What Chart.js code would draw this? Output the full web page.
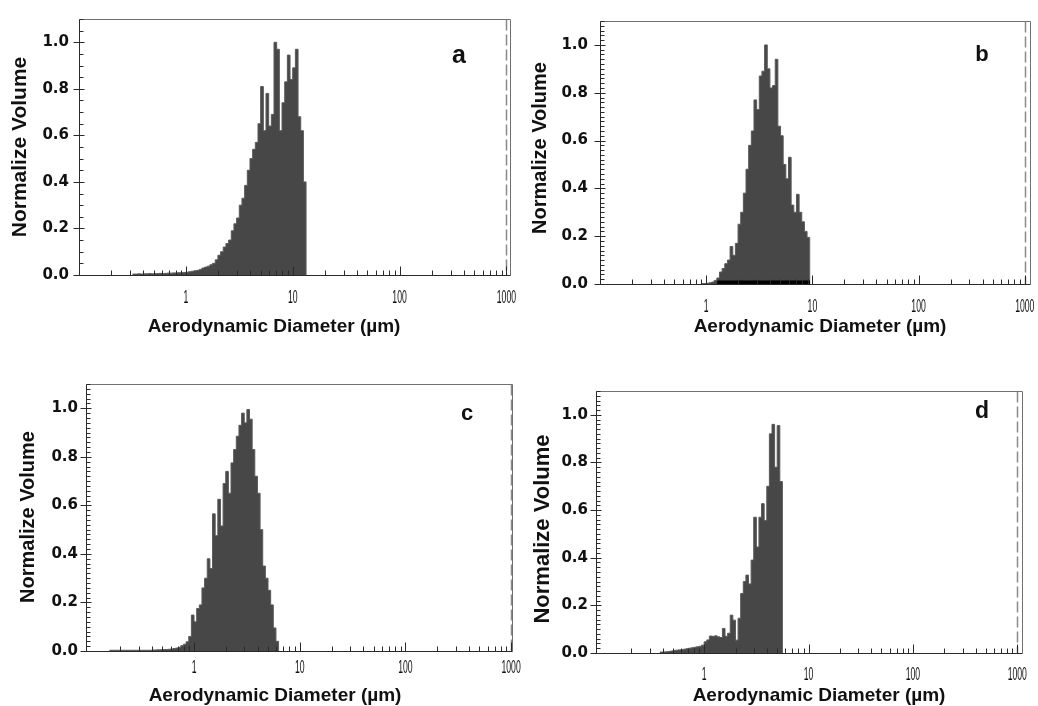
<!DOCTYPE html>
<html>
<head>
<meta charset="utf-8">
<script src="https://cdn.jsdelivr.net/npm/chart.js@4.4.1/dist/chart.umd.min.js"></script>
<style>
  html, body { margin: 0; padding: 0; background: #fff; }
  body { position: relative; width: 1038px; height: 706px; overflow: hidden; }
  canvas { position: absolute; }
</style>
</head>
<body>
<canvas id="chartA" width="530" height="345" style="left:0;top:0"></canvas>
<canvas id="chartB" width="519" height="345" style="left:519px;top:0"></canvas>
<canvas id="chartC" width="530" height="351" style="left:0;top:355px"></canvas>
<canvas id="chartD" width="519" height="351" style="left:519px;top:355px"></canvas>
<script>
// size channels: 40 per decade, channel 0 starts at 0.1 um
const channelStart = 0.1;
const channelsPerDecade = 40;

const xTickValues = [1, 10, 100, 1000];
const yTickValues = [0, 0.2, 0.4, 0.6, 0.8, 1.0];
const dashedLineAt = 1000;

const xTitle = 'Aerodynamic Diameter (µm)';
const yTitle = 'Normalize Volume';

// normalized volume per channel
const firstChannelA = 20;
const volumeA = [
    0.004, 0.004, 0.005, 0.004, 0.005, 0.005, 0.006, 0.005, 0.006, 0.006,
    0.007, 0.006, 0.007, 0.008, 0.008, 0.009, 0.009, 0.010, 0.010, 0.011,
    0.012, 0.014, 0.016, 0.018, 0.020, 0.024, 0.030, 0.034, 0.038, 0.044,
    0.050, 0.065, 0.085, 0.100, 0.120, 0.135, 0.150, 0.190, 0.220, 0.245,
    0.300, 0.330, 0.385, 0.450, 0.500, 0.540, 0.570, 0.650, 0.810, 0.620,
    0.780, 0.640, 0.690, 1.000, 0.970, 0.620, 0.740, 0.830, 0.945, 0.840,
    0.890, 0.970, 0.680, 0.620, 0.400
];

const firstChannelB = 38;
const volumeB = [
    0.002, 0.002,
    0.003, 0.005, 0.008, 0.015, 0.025, 0.050, 0.065, 0.085, 0.100, 0.157,
    0.120, 0.170, 0.250, 0.300, 0.380, 0.480, 0.580, 0.640, 0.770, 0.730,
    0.870, 0.890, 1.000, 0.900, 0.820, 0.830, 0.940, 0.660, 0.620, 0.500,
    0.440, 0.530, 0.330, 0.300, 0.375, 0.300, 0.260, 0.220, 0.195
];
const blackBandB = [1.27, 9.5];

const firstChannelC = 8;
const volumeC = [
    0.003, 0.003, 0.003, 0.003, 0.003, 0.003, 0.003, 0.003, 0.003, 0.003,
    0.003, 0.003, 0.003, 0.003, 0.003, 0.003, 0.004, 0.004, 0.005, 0.005,
    0.006, 0.006, 0.007, 0.008, 0.010, 0.012,
    0.015, 0.022, 0.028, 0.038, 0.060, 0.148, 0.120, 0.175, 0.190, 0.260,
    0.300, 0.380, 0.340, 0.565, 0.475, 0.625, 0.515, 0.690, 0.740, 0.650,
    0.775, 0.830, 0.885, 0.930, 0.980, 0.940, 0.995, 0.955, 0.830, 0.720,
    0.650, 0.500, 0.350, 0.300, 0.250, 0.190, 0.095, 0.040
];

const firstChannelD = 23;
const volumeD = [
    0.004, 0.004, 0.005, 0.006, 0.008, 0.010, 0.012,
    0.013, 0.014, 0.016, 0.018, 0.020, 0.022, 0.024, 0.026, 0.028, 0.033,
    0.047, 0.055, 0.071, 0.070, 0.072, 0.068, 0.065, 0.103, 0.070, 0.083,
    0.159, 0.138, 0.054, 0.146, 0.250, 0.300, 0.327, 0.290, 0.390, 0.570,
    0.445, 0.570, 0.627, 0.556, 0.700, 0.920, 0.960, 0.780, 0.955, 0.720
];

function channelEdge(i) {
    return channelStart * Math.pow(10, i / channelsPerDecade);
}

function toPoints(first, values) {
    const pts = values.map((v, k) => ({ x: channelEdge(first + k), y: v }));
    pts.push({ x: channelEdge(first + values.length), y: 0 });
    return pts;
}

const panels = [
    {
        id: 'chartA', letter: 'a', first: firstChannelA, values: volumeA,
        xMin: 0.1, xMax: 1080, yAxisWidth: 79, xAxisHeight: 70, padTop: 14, padRight: 20,
        yTickPad: 10, yMinorStep: 0.05, xLabelY: 298,
        xTitleAt: [274, 327], yTitleAt: [20, 147], yTitleSize: 21,
        letterAt: [459, 56], letterSize: 25
    },
    {
        id: 'chartB', letter: 'b', first: firstChannelB, values: volumeB, band: blackBandB,
        xMin: 0.1, xMax: 1120, yAxisWidth: 81, xAxisHeight: 61, padTop: 17, padRight: 8,
        yTickPad: 12, yMinorStep: 0.02, xLabelY: 307,
        xTitleAt: [301, 327], yTitleAt: [21, 148], yTitleSize: 20,
        letterAt: [463, 55], letterSize: 22
    },
    {
        id: 'chartC', letter: 'c', first: firstChannelC, values: volumeC,
        xMin: 0.095, xMax: 1020, yAxisWidth: 86, xAxisHeight: 55, padTop: 29, padRight: 18,
        yTickPad: 8, yMinorStep: 0.02, xLabelY: 313,
        xTitleAt: [275, 341], yTitleAt: [28, 162], yTitleSize: 20,
        letterAt: [467, 59], letterSize: 22
    },
    {
        id: 'chartD', letter: 'd', first: firstChannelD, values: volumeD,
        xMin: 0.092, xMax: 1110, yAxisWidth: 77, xAxisHeight: 53, padTop: 36, padRight: 16,
        yTickPad: 8, yMinorStep: 0.02, xLabelY: 320,
        xTitleAt: [300, 341], yTitleAt: [24, 174], yTitleSize: 22,
        letterAt: [463, 57], letterSize: 23
    }
];

function crisp(v) {
    return Math.round(v) + 0.5;
}

// frame, inward ticks, dashed 1000 um line, axis titles and panel letter
function makeDecor(p) {
    return {
        id: 'panelDecor',
        afterDraw(chart) {
            const { ctx, chartArea: area, scales: { x, y } } = chart;
            const L = crisp(area.left), R = crisp(area.right);
            const T = crisp(area.top), B = crisp(area.bottom);
            ctx.save();

            // dashed line
            const xd = crisp(x.getPixelForValue(dashedLineAt));
            ctx.strokeStyle = '#8a8a8a';
            ctx.lineWidth = 1.5;
            ctx.setLineDash([11, 4]);
            ctx.beginPath();
            ctx.moveTo(xd, T);
            ctx.lineTo(xd, B);
            ctx.stroke();
            ctx.setLineDash([]);

            // top and right frame
            ctx.strokeStyle = '#707070';
            ctx.lineWidth = 1;
            ctx.beginPath();
            ctx.moveTo(L, T);
            ctx.lineTo(R, T);
            ctx.lineTo(R, B);
            ctx.stroke();

            // axes
            ctx.strokeStyle = '#2a2a2a';
            ctx.beginPath();
            ctx.moveTo(L, T);
            ctx.lineTo(L, B);
            ctx.lineTo(R, B);
            ctx.stroke();

            // y ticks
            ctx.beginPath();
            const nMinor = Math.round(y.max / p.yMinorStep);
            for (let k = 0; k <= nMinor; k++) {
                const v = k * p.yMinorStep;
                const py = crisp(y.getPixelForValue(v));
                const major = yTickValues.some(t => Math.abs(t - v) < 1e-6);
                if (major) {
                    ctx.moveTo(L - 6, py);
                    ctx.lineTo(L + 5, py);
                } else {
                    ctx.moveTo(L, py);
                    ctx.lineTo(L + 4, py);
                }
            }
            // x ticks
            for (let d = 0.1; d < x.max; d *= 10) {
                for (let m = 2; m <= 9; m++) {
                    const v = d * m;
                    if (v <= x.min || v >= x.max) continue;
                    const px = crisp(x.getPixelForValue(v));
                    ctx.moveTo(px, B);
                    ctx.lineTo(px, B - 5);
                }
            }
            xTickValues.forEach(v => {
                const px = crisp(x.getPixelForValue(v));
                ctx.moveTo(px, B);
                ctx.lineTo(px, B - 9);
            });
            ctx.stroke();

            // x tick labels, condensed
            ctx.fillStyle = '#111';
            ctx.font = '18px "Liberation Sans", Arial, sans-serif';
            ctx.textAlign = 'center';
            ctx.textBaseline = 'middle';
            xTickValues.forEach(v => {
                const px = x.getPixelForValue(v);
                ctx.save();
                ctx.translate(px, p.xLabelY);
                ctx.scale(0.48, 1);
                ctx.fillText(String(v), 0, 0);
                ctx.restore();
            });

            // axis titles
            ctx.fillStyle = '#111';
            ctx.font = 'bold 19px "Liberation Sans", Arial, sans-serif';
            ctx.fillText(xTitle, p.xTitleAt[0], p.xTitleAt[1]);

            ctx.save();
            ctx.translate(p.yTitleAt[0], p.yTitleAt[1]);
            ctx.rotate(-Math.PI / 2);
            ctx.font = 'bold ' + p.yTitleSize + 'px "Liberation Sans", Arial, sans-serif';
            ctx.fillText(yTitle, 0, 0);
            ctx.restore();

            // panel letter
            ctx.font = 'bold ' + p.letterSize + 'px "Liberation Sans", Arial, sans-serif';
            ctx.fillText(p.letter, p.letterAt[0], p.letterAt[1]);

            ctx.restore();
        }
    };
}

function buildChart(p) {
    const datasets = [{
        data: toPoints(p.first, p.values),
        stepped: 'before',
        fill: 'origin',
        backgroundColor: '#474747',
        borderColor: '#5a5a5a',
        borderWidth: 1,
        pointRadius: 0,
        clip: 0,
        order: 1
    }];
    if (p.band) {
        datasets.push({
            data: p.band.map(v => ({ x: v, y: 0 })),
            borderColor: '#000',
            borderWidth: 7,
            pointRadius: 0,
            fill: false,
            clip: 0,
            order: 0
        });
    }

    return new Chart(document.getElementById(p.id), {
        type: 'line',
        data: { datasets },
        options: {
            responsive: false,
            animation: false,
            devicePixelRatio: 1,
            layout: {
                padding: { top: p.padTop, right: p.padRight, left: 0, bottom: 0 }
            },
            plugins: {
                legend: { display: false },
                tooltip: { enabled: false }
            },
            scales: {
                x: {
                    type: 'logarithmic',
                    min: p.xMin,
                    max: p.xMax,
                    grid: { display: false, drawTicks: false },
                    border: { display: false },
                    ticks: { display: false },
                    afterBuildTicks: s => {
                        s.ticks = xTickValues.map(v => ({ value: v }));
                    },
                    afterFit: s => {
                        s.height = p.xAxisHeight;
                    }
                },
                y: {
                    min: 0,
                    max: 1.1,
                    grid: { display: false, drawTicks: false },
                    border: { display: false },
                    ticks: {
                        font: { family: '"DejaVu Sans", sans-serif', size: 15, weight: 'bold' },
                        color: '#111',
                        padding: p.yTickPad,
                        callback: v => v.toFixed(1)
                    },
                    afterBuildTicks: s => {
                        s.ticks = yTickValues.map(v => ({ value: v }));
                    },
                    afterFit: s => {
                        s.width = p.yAxisWidth;
                    }
                }
            }
        },
        plugins: [makeDecor(p)]
    });
}

panels.forEach(buildChart);
</script>
</body>
</html>
